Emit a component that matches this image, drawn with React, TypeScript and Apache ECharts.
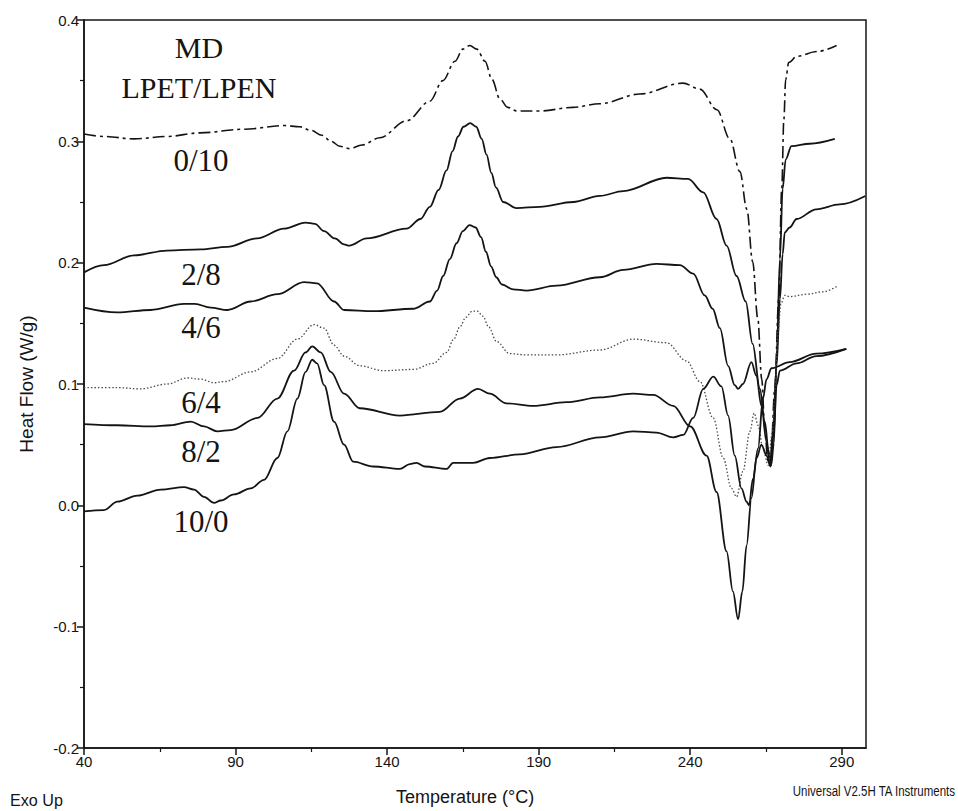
import React, { useEffect, useRef } from "react";
import * as echarts from "echarts";

// ---- Data (Temperature °C, Heat Flow W/g) ----
const curve0_10: [number, number][] = [
  [40.0, 0.306], [46.6, 0.304], [56.5, 0.302], [67.4, 0.304], [78.3, 0.307], [92.8, 0.310],
  [106.0, 0.313], [111.2, 0.312], [114.9, 0.309], [118.5, 0.305], [121.5, 0.300], [124.4, 0.296],
  [127.7, 0.294], [131.7, 0.297], [137.6, 0.303], [146.5, 0.317], [154.1, 0.333], [158.4, 0.350],
  [162.4, 0.366], [165.0, 0.376], [167.3, 0.379], [169.6, 0.376], [172.3, 0.366], [174.6, 0.351],
  [177.2, 0.335], [179.8, 0.328], [182.8, 0.325], [190.4, 0.325], [201.3, 0.328], [210.2, 0.331],
  [223.4, 0.339], [237.6, 0.348], [243.2, 0.343], [248.8, 0.326], [253.1, 0.302], [256.4, 0.275],
  [258.7, 0.244], [260.6, 0.201], [262.3, 0.154], [263.6, 0.104], [264.6, 0.063], [265.6, 0.037],
  [266.6, 0.040], [267.9, 0.096], [269.2, 0.170], [270.2, 0.261], [270.9, 0.318], [271.5, 0.351],
  [272.5, 0.365], [275.2, 0.370], [281.8, 0.374], [288.3, 0.379],
];

const curve2_8: [number, number][] = [
  [40, 0.192], [46.6, 0.198], [56.5, 0.206], [67.4, 0.210], [78.5, 0.211], [87.2, 0.213],
  [97.1, 0.220], [106.0, 0.228], [113.1, 0.233], [116.2, 0.232], [119.2, 0.226], [122.8, 0.220],
  [125.8, 0.215], [127.5, 0.214], [133.2, 0.220], [146.4, 0.228], [151.0, 0.236], [154.1, 0.246],
  [157.0, 0.260], [159.6, 0.276], [161.6, 0.292], [163.4, 0.304], [165.2, 0.312], [167.4, 0.315],
  [169.4, 0.312], [171.2, 0.302], [172.8, 0.289], [174.4, 0.274], [175.9, 0.262], [178.3, 0.250],
  [182.7, 0.245], [190.4, 0.246], [201.4, 0.250], [210.2, 0.255], [217.9, 0.259],
  [232.2, 0.270], [239.3, 0.269], [244.3, 0.258], [248.7, 0.236], [252.0, 0.214], [255.3, 0.189],
  [258.3, 0.168], [260.6, 0.133], [263.0, 0.096], [264.6, 0.069], [265.9, 0.044], [266.7, 0.033],
  [267.6, 0.051], [268.6, 0.129], [269.6, 0.203], [270.5, 0.261], [271.5, 0.285], [273.4, 0.296],
  [279.4, 0.298], [287.7, 0.302],
];

const curve4_6: [number, number][] = [
  [40, 0.163], [51.0, 0.159], [62.0, 0.161], [73.0, 0.166], [76.6, 0.166], [81.8, 0.163],
  [87.3, 0.161], [95.0, 0.168], [103.8, 0.174], [112.6, 0.184], [116.9, 0.183], [122.5, 0.168],
  [125.8, 0.161], [135.4, 0.160], [148.6, 0.162], [154.1, 0.168], [156.5, 0.177], [158.5, 0.189],
  [160.7, 0.203], [162.9, 0.216], [165.0, 0.226], [167.2, 0.231], [169.2, 0.229], [171.0, 0.221],
  [172.6, 0.209], [174.3, 0.197], [176.0, 0.188], [177.9, 0.182], [181.6, 0.178],
  [186.0, 0.177], [195.9, 0.181], [210.2, 0.188], [217.9, 0.194], [228.9, 0.199], [236.6, 0.198],
  [241.0, 0.191], [244.8, 0.173], [247.4, 0.162], [249.8, 0.146], [252.5, 0.115], [254.7, 0.099],
  [255.8, 0.096], [257.4, 0.100], [260.2, 0.118], [261.8, 0.107], [263.5, 0.082], [265.2, 0.052],
  [266.3, 0.033], [267.3, 0.061], [268.5, 0.115], [269.6, 0.170], [270.5, 0.207], [271.2, 0.225],
  [272.8, 0.229], [275.1, 0.236], [281.6, 0.244], [289.3, 0.248], [297.8, 0.255],
];

const curve6_4: [number, number][] = [
  [40, 0.097], [51.0, 0.097], [58.7, 0.096], [67.5, 0.100], [74.1, 0.105], [78.5, 0.104],
  [82.9, 0.101], [86.2, 0.102], [95.0, 0.110], [103.8, 0.121], [110.4, 0.137], [115.9, 0.149],
  [119.2, 0.146], [122.5, 0.132], [125.8, 0.123], [131.0, 0.115], [138.7, 0.111], [148.6, 0.112],
  [155.2, 0.117], [159.6, 0.126], [162.0, 0.137], [164.0, 0.147], [166.0, 0.155], [168.0, 0.160],
  [169.8, 0.160], [171.6, 0.156], [173.5, 0.147], [176.1, 0.135], [180.5, 0.125], [186.0, 0.124],
  [195.9, 0.124], [210.2, 0.128], [221.2, 0.137],
  [232.2, 0.134], [238.8, 0.119], [243.2, 0.102], [247.6, 0.072], [250.9, 0.039], [253.6, 0.014],
  [255.3, 0.007], [257.4, 0.028], [259.7, 0.061], [261.1, 0.076], [262.4, 0.066], [264.0, 0.047],
  [265.7, 0.033], [267.1, 0.061], [267.9, 0.088], [269.0, 0.143], [269.9, 0.166], [271.2, 0.173],
  [272.8, 0.172], [278.4, 0.174], [283.8, 0.176], [288.8, 0.181],
];

const curve8_2: [number, number][] = [
  [40, 0.067], [51.0, 0.066], [62.0, 0.065], [68.6, 0.066], [75.2, 0.069], [79.6, 0.065],
  [84.0, 0.061], [88.4, 0.062], [97.2, 0.072], [103.8, 0.088], [109.3, 0.111], [113.1, 0.126],
  [115.3, 0.131], [118.1, 0.126], [121.4, 0.110], [125.8, 0.092], [131.0, 0.080], [144.2, 0.074],
  [157.4, 0.077], [164.0, 0.088], [170.0, 0.096], [173.9, 0.092], [179.4, 0.084], [188.2, 0.082],
  [199.2, 0.085], [210.2, 0.089], [221.2, 0.092], [227.8, 0.091], [234.4, 0.082], [240.0, 0.065],
  [245.4, 0.041], [248.7, 0.011], [252.0, -0.038], [254.1, -0.071], [255.8, -0.094], [257.2, -0.071],
  [258.6, -0.033], [260.2, 0.006], [261.9, 0.039], [263.5, 0.050], [265.2, 0.041], [266.5, 0.032],
  [267.6, 0.061], [268.5, 0.099], [269.6, 0.111], [275.1, 0.117], [281.6, 0.123], [291.5, 0.129],
];

const curve10_0: [number, number][] = [
  [40, -0.005], [46.6, -0.004], [51.0, 0.003], [57.6, 0.008], [65.3, 0.013], [73.0, 0.015],
  [76.3, 0.013], [79.6, 0.007], [82.9, 0.002], [85.1, 0.004], [89.5, 0.009], [95.0, 0.014],
  [99.4, 0.021], [103.8, 0.039], [107.1, 0.061], [110.4, 0.088], [113.1, 0.110], [115.3, 0.120],
  [116.9, 0.117], [119.2, 0.099], [122.5, 0.069], [125.8, 0.050], [128.8, 0.036], [135.4, 0.032],
  [144.2, 0.030], [147.5, 0.034], [149.7, 0.035], [152.5, 0.032], [159.6, 0.030], [161.8, 0.035],
  [168.4, 0.035], [173.9, 0.039], [183.8, 0.042], [195.9, 0.048], [210.2, 0.056], [221.2, 0.061],
  [228.9, 0.060], [234.4, 0.056], [237.7, 0.058], [241.0, 0.072], [244.3, 0.096], [247.6, 0.106],
  [250.3, 0.098], [252.5, 0.074], [254.7, 0.041], [256.9, 0.014], [258.6, 0.003], [259.4, 0.000],
  [260.7, 0.022], [262.4, 0.047], [264.0, 0.088], [265.2, 0.104], [266.8, 0.113], [272.8, 0.118],
  [281.6, 0.125], [291.5, 0.129],
];

const xTicks = [40, 90, 140, 190, 240, 290];
const xMinorTicks = [65, 115, 165, 215, 265];
const compositionLabels = ["0/10", "2/8", "4/6", "6/4", "8/2", "10/0"];
const headerLabels = ["MD", "LPET/LPEN"];

const INK = "#141414";
const AXIS_FONT = "'Liberation Sans', Arial, sans-serif";
const TITLE_FONT = "'Liberation Sans', Arial, sans-serif";
const SERIF = "'Liberation Serif', 'Times New Roman', 'DejaVu Serif', serif";

export default function App() {
  const ref = useRef<HTMLDivElement>(null);

  useEffect(() => {
    if (!ref.current) return;
    const chart = echarts.init(ref.current, null, { renderer: "svg" });

    const labelY = [160, 274, 327, 402, 451, 521];
    const headerY = [47, 87];

    const solid = (w = 1.8) => ({ color: INK, width: w, type: "solid" as const });

    const mkSeries = (name: string, data: [number, number][], lineStyle: any) => ({
      name,
      type: "line",
      data,
      showSymbol: false,
      symbol: "none",
      smooth: 0.35,
      smoothMonotone: "x",
      lineStyle,
      emphasis: { disabled: true },
      silent: true,
    });

    const txt = (text: string, x: number, y: number, style: any, extra: any = {}) => ({
      type: "text",
      x,
      y,
      silent: true,
      ...extra,
      style: {
        text,
        fill: INK,
        textVerticalAlign: "middle",
        verticalAlign: "middle",
        ...style,
      },
    });

    chart.setOption({
      animation: false,
      backgroundColor: "#ffffff",
      grid: {
        left: 84,
        right: 92,
        top: 20,
        bottom: 62,
        show: true,
        borderColor: INK,
        borderWidth: 1.5,
        backgroundColor: "transparent",
      },
      xAxis: [
        {
          type: "value",
          min: 40,
          max: 298,
          position: "bottom",
          axisLine: { show: true, onZero: false, lineStyle: { color: INK, width: 1.5 } },
          axisTick: { show: true, inside: false, length: 7, customValues: xTicks, lineStyle: { color: INK, width: 1.5 } },
          axisLabel: { show: true, customValues: xTicks, margin: 6, fontSize: 15, fontFamily: AXIS_FONT, color: INK },
          splitLine: { show: false },
          name: "Temperature (°C)",
          nameLocation: "middle",
          nameGap: 40,
          nameTextStyle: { fontSize: 18, fontFamily: TITLE_FONT, color: INK, padding: [0, 20, 0, 0] },
        },
        {
          type: "value",
          min: 40,
          max: 298,
          position: "bottom",
          axisLine: { show: false, onZero: false },
          axisTick: { show: true, inside: false, length: 4, customValues: xMinorTicks, lineStyle: { color: INK, width: 1.2 } },
          axisLabel: { show: false },
          splitLine: { show: false },
        },
      ],
      yAxis: {
        type: "value",
        min: -0.2,
        max: 0.4,
        interval: 0.1,
        axisLine: { show: true, onZero: false, lineStyle: { color: INK, width: 1.5 } },
        axisTick: { show: true, inside: false, length: 7, lineStyle: { color: INK, width: 1.5 } },
        minorTick: { show: true, splitNumber: 2, length: 4, lineStyle: { color: INK, width: 1.2 } },
        axisLabel: {
          margin: 5,
          fontSize: 15,
          fontFamily: AXIS_FONT,
          color: INK,
          formatter: (v: number) => v.toFixed(1),
        },
        splitLine: { show: false },
        name: "Heat Flow (W/g)",
        nameLocation: "middle",
        nameRotate: 90,
        nameGap: 48,
        nameTextStyle: { fontSize: 19, fontFamily: TITLE_FONT, color: INK },
      },
      series: [
        mkSeries(compositionLabels[0], curve0_10, { color: INK, width: 1.6, type: [12, 4, 3, 4] }),
        mkSeries(compositionLabels[1], curve2_8, solid()),
        mkSeries(compositionLabels[2], curve4_6, solid()),
        mkSeries(compositionLabels[3], curve6_4, { color: "#4a4a4a", width: 1.3, type: [1.5, 2] }),
        mkSeries(compositionLabels[4], curve8_2, solid()),
        mkSeries(compositionLabels[5], curve10_0, solid()),
      ],
      graphic: [
        ...headerLabels.map((t, i) =>
          txt(t, 199, headerY[i], { fontSize: 30, fontFamily: SERIF, align: "center", textAlign: "center" })
        ),
        ...compositionLabels.map((t, i) =>
          txt(t, 201, labelY[i], { fontSize: 31, fontFamily: SERIF, align: "center", textAlign: "center" })
        ),
        txt("Exo Up", 10, 800, { fontSize: 17, fontFamily: AXIS_FONT, align: "left", textAlign: "left" }, { scaleX: 0.95 }),
        txt(
          "Universal V2.5H TA Instruments",
          955,
          791,
          { fontSize: 14, fontFamily: AXIS_FONT, align: "right", textAlign: "right" },
          { scaleX: 0.82 }
        ),
      ],
    });

    return () => chart.dispose();
  }, []);

  return (
    <div
      ref={ref}
      style={{ position: "fixed", left: 0, top: 0, width: 958, height: 811, background: "#fff" }}
    />
  );
}
